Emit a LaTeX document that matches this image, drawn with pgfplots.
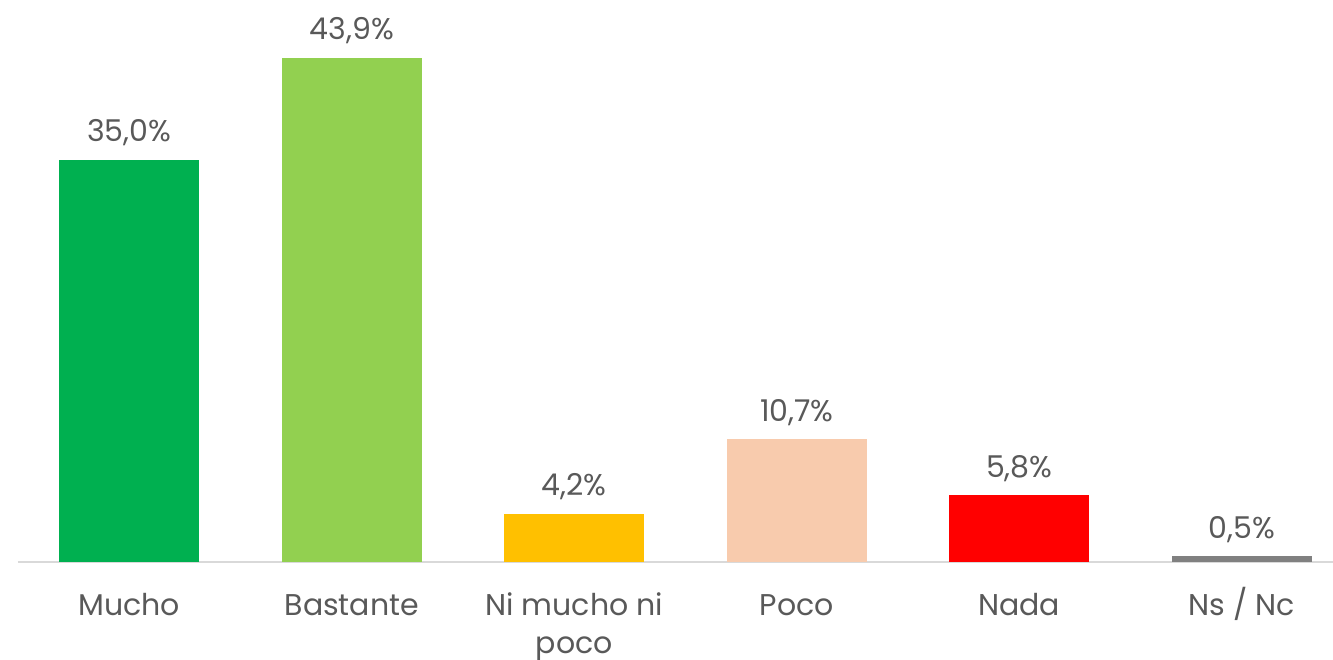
\documentclass[border=0pt]{standalone}
\usepackage{pgfplots}
\pgfplotsset{compat=1.18}
\usepackage{fontspec}
\setmainfont{Poppins}
\definecolor{txt}{HTML}{595959}
\definecolor{axl}{HTML}{D9D9D9}
\definecolor{c1}{HTML}{00B050}
\definecolor{c2}{HTML}{92D050}
\definecolor{c3}{HTML}{FFC000}
\definecolor{c4}{HTML}{F8CBAD}
\definecolor{c5}{HTML}{FF0000}
\definecolor{c6}{HTML}{808080}
\newcommand{\nimucho}{\begin{tabular}[t]{@{}c@{}}Ni mucho ni\\poco\end{tabular}}
\begin{document}
\begin{tikzpicture}
\useasboundingbox (0,0) rectangle (666.5pt,329.5pt);
\begin{axis}[
  at={(9pt,48.5pt)}, anchor=south west,
  scale only axis, width=657.5pt, height=275.76pt,
  xmin=-0.5, xmax=5.41, ymin=0, ymax=48,
  axis y line=none, axis x line*=bottom,
  x axis line style={draw=axl, line width=0.8pt, -},
  xtick={0,1,2,3,4,5},
  xticklabels={Mucho,Bastante,\nimucho,Poco,Nada,Ns / Nc},
  xticklabel style={font=\fontsize{15}{19}\selectfont, text=txt, anchor=base, yshift=-26.5pt},
  major tick length=0pt,
  ybar, bar width=70pt, bar shift=0pt,
  /pgf/number format/assume math mode=true,
  nodes near coords={\pgfmathprintnumber[fixed,fixed zerofill,precision=1,use comma,assume math mode=true]{\pgfplotspointmeta}\%},
  every node near coord/.append style={font=\fontsize{15}{18}\selectfont, text=txt, anchor=base, yshift=9pt},
  clip=false,
]
\addplot[fill=c1, draw=none] coordinates {(0,35.0)};
\addplot[fill=c2, draw=none] coordinates {(1,43.9)};
\addplot[fill=c3, draw=none] coordinates {(2,4.2)};
\addplot[fill=c4, draw=none] coordinates {(3,10.7)};
\addplot[fill=c5, draw=none] coordinates {(4,5.8)};
\addplot[fill=c6, draw=none] coordinates {(5,0.5)};
\end{axis}
\end{tikzpicture}
\end{document}
